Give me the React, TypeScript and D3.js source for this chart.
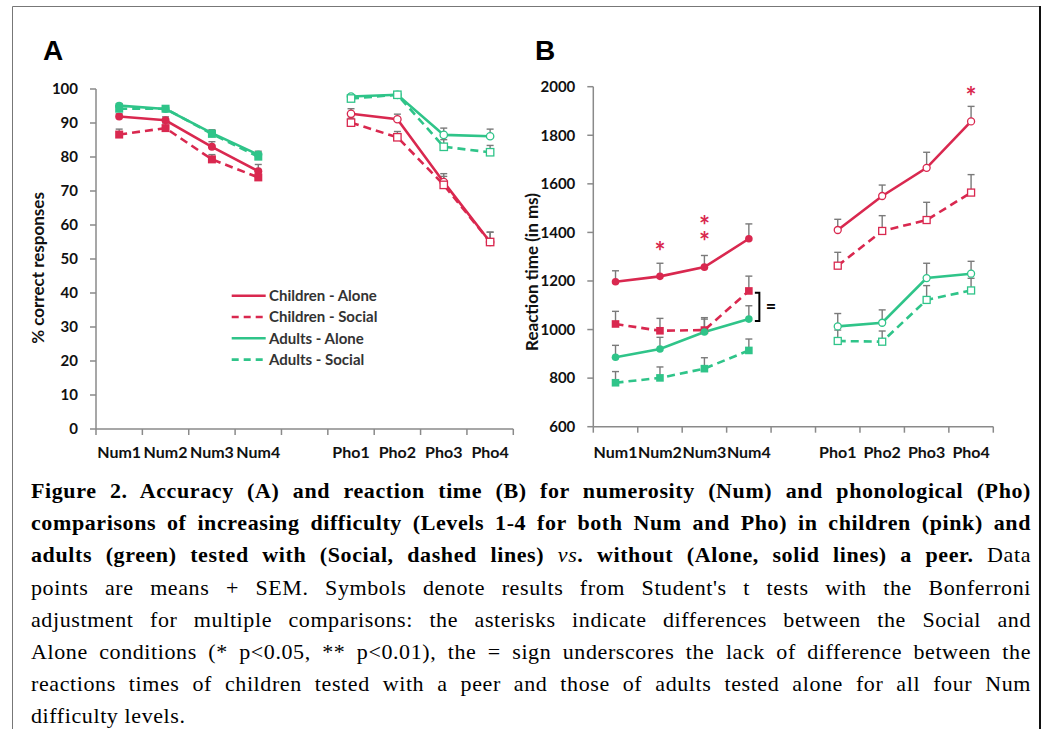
import React, { useEffect, useRef } from "react";
import * as d3 from "d3";

// ---------- data ----------
const categories = ["Num1", "Num2", "Num3", "Num4", "gap", "Pho1", "Pho2", "Pho3", "Pho4"];
const tickLabels = ["Num1", "Num2", "Num3", "Num4", "", "Pho1", "Pho2", "Pho3", "Pho4"];
const accTicks = [0, 10, 20, 30, 40, 50, 60, 70, 80, 90, 100];
const rtTicks = [600, 800, 1000, 1200, 1400, 1600, 1800, 2000];

// Panel A: % correct responses
const accChildAlone = [91.9, 90.8, 83.0, 75.8, null, 92.7, 91.1, 72.6, 55.0];
const accChildAloneSem = [0.8, 1.0, 1.5, 2.0, null, 1.5, 1.5, 2.5, 2.9];
const accChildSocial = [86.6, 88.5, 79.3, 74.0, null, 90.1, 85.8, 71.8, 55.0];
const accChildSocialSem = [1.6, 1.5, 1.4, 1.8, null, 1.3, 1.7, 2.5, 2.9];
const accAdultAlone = [95.1, 94.1, 87.0, 80.7, null, 97.8, 98.3, 86.5, 86.1];
const accAdultAloneSem = [0.6, 0.6, 1.0, 1.0, null, 0.5, 0.5, 2.0, 2.1];
const accAdultSocial = [94.2, 94.2, 86.8, 80.1, null, 97.2, 98.3, 83.0, 81.4];
const accAdultSocialSem = [0.6, 0.5, 1.0, 1.0, null, 0.5, 0.5, 2.1, 2.0];

// Panel B: reaction time (ms)
const rtChildAlone = [1197, 1219, 1257, 1374, null, 1410, 1550, 1666, 1857];
const rtChildAloneSem = [45, 54, 48, 61, null, 44, 45, 64, 62];
const rtChildSocial = [1023, 995, 998, 1159, null, 1263, 1406, 1451, 1564];
const rtChildSocialSem = [52, 51, 51, 61, null, 55, 63, 73, 74];
const rtAdultAlone = [886, 920, 990, 1043, null, 1013, 1028, 1212, 1230];
const rtAdultAloneSem = [49, 48, 53, 55, null, 53, 53, 61, 51];
const rtAdultSocial = [781, 801, 839, 914, null, 953, 950, 1122, 1161];
const rtAdultSocialSem = [46, 45, 45, 47, null, 45, 44, 59, 50];

// significance annotations (panel B): category, value of the (top) star, number of stars
const starCats = ["Num2", "Num3", "Pho4"];
const starValues = [1336, 1444, 1975];
const starCounts = [1, 2, 1];
const bracketCat = "Num4";
const bracketRange = [1035, 1152];

const legendLabels = ["Children - Alone", "Children - Social", "Adults - Alone", "Adults - Social"];

const captionLines = [
  [{ t: "Figure 2. Accuracy (A) and reaction time (B) for numerosity (Num) and phonological (Pho)", b: true }],
  [{ t: "comparisons of increasing difficulty (Levels 1-4 for both Num and Pho) in children (pink) and", b: true }],
  [
    { t: "adults (green) tested with (Social, dashed lines) ", b: true },
    { t: "vs", i: true },
    { t: ". without (Alone, solid lines) a peer.", b: true },
    { t: " Data" },
  ],
  [{ t: "points are means + SEM. Symbols denote results from Student's t tests with the Bonferroni" }],
  [{ t: "adjustment for multiple comparisons: the asterisks indicate differences between the Social and" }],
  [{ t: "Alone conditions (* p<0.05, ** p<0.01), the = sign underscores the lack of difference between the" }],
  [{ t: "reactions times of children tested with a peer and those of adults tested alone for all four Num" }],
  [{ t: "difficulty levels." }],
];

// ---------- styles ----------
const RED = "#D9284F";
const GREEN = "#2FC489";
const AXIS = "#8a8a8a";
const ERR = "#7a7a7a";
const FONT = "Lato, 'Open Sans', sans-serif";
const CAP_LEFT = 31;
const CAP_RIGHT = 1031;

type Series = {
  values: (number | null)[];
  sem: (number | null)[];
  color: string;
  dashed: boolean;
  shape: "circle" | "square";
};

function makeSeries(v1, s1, v2, s2, v3, s3, v4, s4): Series[] {
  return [
    { values: v1, sem: s1, color: RED, dashed: false, shape: "circle" },
    { values: v2, sem: s2, color: RED, dashed: true, shape: "square" },
    { values: v3, sem: s3, color: GREEN, dashed: false, shape: "circle" },
    { values: v4, sem: s4, color: GREEN, dashed: true, shape: "square" },
  ];
}

const accSeries = makeSeries(
  accChildAlone, accChildAloneSem, accChildSocial, accChildSocialSem,
  accAdultAlone, accAdultAloneSem, accAdultSocial, accAdultSocialSem
);
const rtSeries = makeSeries(
  rtChildAlone, rtChildAloneSem, rtChildSocial, rtChildSocialSem,
  rtAdultAlone, rtAdultAloneSem, rtAdultSocial, rtAdultSocialSem
);

function Panel(props: {
  x0: number; x1: number; yTop: number; yBot: number; domain: [number, number];
  ticks: number[]; series: Series[]; yTitle: string; titleX: number; titleY: number;
  letter: string; letterX: number; markerR: number; children?: (x: any, y: any) => React.ReactNode;
}) {
  const { x0, x1, yTop, yBot, domain, ticks, series, yTitle, titleX, titleY, letter, letterX, markerR } = props;
  const x = d3.scaleBand<string>().domain(categories).range([x0, x1]).padding(0);
  const y = d3.scaleLinear().domain(domain).range([yBot, yTop]);
  const bw = x.bandwidth();
  const cx = (c: string) => (x(c) as number) + bw / 2;
  const line = d3
    .line<number | null>()
    .defined((d) => d != null)
    .x((_, i) => cx(categories[i]))
    .y((d) => y(d as number));

  return (
    <g>
      <text x={letterX} y={60} fontFamily="'Liberation Sans', Arial, sans-serif" fontWeight="bold" fontSize={28} fill="#000">
        {letter}
      </text>
      {/* y axis */}
      <line x1={x0} x2={x0} y1={yTop} y2={yBot} stroke={AXIS} strokeWidth={1.5} />
      {ticks.map((t) => (
        <g key={t}>
          <line x1={x0 - 6} x2={x0} y1={y(t)} y2={y(t)} stroke={AXIS} strokeWidth={1.5} />
          <text x={x0 - 18} y={y(t)} dy="0.35em" textAnchor="end" fontFamily={FONT} fontWeight="bold" fontSize={15} fill="#111">
            {t}
          </text>
        </g>
      ))}
      {/* x axis */}
      <line x1={x0} x2={x1} y1={yBot} y2={yBot} stroke={AXIS} strokeWidth={1.5} />
      {d3.range(categories.length + 1).map((i) => (
        <line key={i} x1={x0 + i * bw} x2={x0 + i * bw} y1={yBot} y2={yBot + 6} stroke={AXIS} strokeWidth={1.5} />
      ))}
      {categories.map((c, i) => (
        <text key={c} x={cx(c)} y={458} textAnchor="middle" fontFamily={FONT} fontWeight="bold" fontSize={16} fill="#111">
          {tickLabels[i]}
        </text>
      ))}
      <text
        transform={`translate(${titleX},${titleY}) rotate(-90)`}
        textAnchor="middle"
        dy="0.35em"
        fontFamily={FONT}
        fontWeight="bold"
        fontSize={17}
        fill="#111"
      >
        {yTitle}
      </text>
      {/* error bars */}
      {series.map((s, si) =>
        s.values.map((v, i) =>
          v == null || s.sem[i] == null ? null : (
            <g key={`e${si}-${i}`} stroke={ERR} strokeWidth={1.4}>
              <line x1={cx(categories[i])} x2={cx(categories[i])} y1={y(v)} y2={y(v + (s.sem[i] as number))} />
              <line x1={cx(categories[i]) - 3.5} x2={cx(categories[i]) + 3.5} y1={y(v + (s.sem[i] as number))} y2={y(v + (s.sem[i] as number))} />
            </g>
          )
        )
      )}
      {/* lines */}
      {series.map((s, si) => (
        <path
          key={`l${si}`}
          d={line(s.values) || ""}
          fill="none"
          stroke={s.color}
          strokeWidth={2.6}
          strokeDasharray={s.dashed ? "8,5" : undefined}
        />
      ))}
      {/* markers */}
      {series.map((s, si) =>
        s.values.map((v, i) => {
          if (v == null) return null;
          const open = i > 4;
          const px = cx(categories[i]);
          const py = y(v);
          const fill = open ? "#fff" : s.color;
          const sw = open ? 1.3 : 0;
          const r = open ? markerR - 0.3 : markerR;
          return s.shape === "circle" ? (
            <circle key={`m${si}-${i}`} cx={px} cy={py} r={r} fill={fill} stroke={s.color} strokeWidth={sw} />
          ) : (
            <rect key={`m${si}-${i}`} x={px - r} y={py - r} width={2 * r} height={2 * r} fill={fill} stroke={s.color} strokeWidth={sw} />
          );
        })
      )}
      {props.children ? props.children(cx, y) : null}
    </g>
  );
}

export default function App() {
  const ref = useRef<SVGSVGElement>(null);

  useEffect(() => {
    const justify = () => {
      if (!ref.current) return;
      d3.select(ref.current)
        .selectAll<SVGTextElement, unknown>("text.cap")
        .each(function () {
          const el = this;
          if (el.getAttribute("data-last") === "1") return;
          el.setAttribute("word-spacing", "0");
          const w = el.getComputedTextLength();
          const spaces = ((el.textContent || "").match(/ /g) || []).length;
          if (spaces > 0) el.setAttribute("word-spacing", String(Math.max(0, (CAP_RIGHT - CAP_LEFT - w) / spaces)));
        });
    };
    justify();
    if ((document as any).fonts && (document as any).fonts.ready) (document as any).fonts.ready.then(justify);
  }, []);

  return (
    <div style={{ position: "absolute", left: 0, top: 0 }}>
      <svg ref={ref} width={1056} height={729} style={{ display: "block", background: "#fff" }}>
        <rect x={0} y={0} width={1056} height={729} fill="#fff" />
        {/* frame */}
        <line x1={12.5} x2={12.5} y1={6.5} y2={729} stroke="#777" strokeWidth={1} />
        <line x1={12.5} x2={1040} y1={6.5} y2={6.5} stroke="#777" strokeWidth={1} />
        <line x1={1040} x2={1040} y1={6} y2={729} stroke="#111" strokeWidth={2} />

        <Panel
          x0={96} x1={513.3} yTop={89} yBot={429} domain={[0, 100]} ticks={accTicks}
          series={accSeries} yTitle="% correct responses" titleX={38} titleY={268}
          letter="A" letterX={43} markerR={4}
        >
          {() => (
            <g>
              {legendLabels.map((lab, i) => (
                <g key={lab} transform={`translate(0,${295.7 + i * 21.3})`}>
                  <line
                    x1={231.7} x2={265.7} y1={0} y2={0}
                    stroke={i < 2 ? RED : GREEN} strokeWidth={2.6}
                    strokeDasharray={i % 2 === 1 ? "7,5" : undefined}
                  />
                  <text x={269} y={0} dy="0.35em" fontFamily={FONT} fontWeight="bold" fontSize={15} fill="#333">
                    {lab}
                  </text>
                </g>
              ))}
            </g>
          )}
        </Panel>

        <Panel
          x0={593.3} x1={993.3} yTop={86.7} yBot={426.7} domain={[600, 2000]} ticks={rtTicks}
          series={rtSeries} yTitle="Reaction time (in ms)" titleX={532} titleY={272}
          letter="B" letterX={535} markerR={3.8}
        >
          {(cx, y) => (
            <g>
              {starCats.map((c, i) => (
                <text key={i} x={cx(c)} y={y(starValues[i]) + 13} textAnchor="middle" fontFamily={FONT} fontWeight="bold" fontSize={26} fill={RED}>
                  {d3.range(starCounts[i]).map((k) => (
                    <tspan key={k} x={cx(c)} dy={k === 0 ? 0 : 16.6}>
                      *
                    </tspan>
                  ))}
                </text>
              ))}
              <path
                d={`M${cx(bracketCat) + 6},${y(bracketRange[1])} H${cx(bracketCat) + 10.5} V${y(bracketRange[0])} H${cx(bracketCat) + 6}`}
                fill="none" stroke="#000" strokeWidth={2}
              />
              <text
                x={cx(bracketCat) + 22}
                y={(y(bracketRange[0]) + y(bracketRange[1])) / 2}
                dy="0.35em" textAnchor="middle" fontFamily={FONT} fontWeight="bold" fontSize={18} fill="#000"
              >
                =
              </text>
            </g>
          )}
        </Panel>

        {/* caption */}
        {captionLines.map((segs, li) => (
          <text
            key={li}
            className="cap"
            data-last={li === captionLines.length - 1 ? "1" : "0"}
            x={CAP_LEFT}
            y={498 + li * 32.2}
            fontFamily="'Liberation Serif', 'Times New Roman', serif"
            fontSize={22}
            letterSpacing={0.6}
            fill="#000"
          >
            {segs.map((s: any, si) => (
              <tspan key={si} fontWeight={s.b ? "bold" : "normal"} fontStyle={s.i ? "italic" : "normal"}>
                {s.t}
              </tspan>
            ))}
          </text>
        ))}
      </svg>
    </div>
  );
}
